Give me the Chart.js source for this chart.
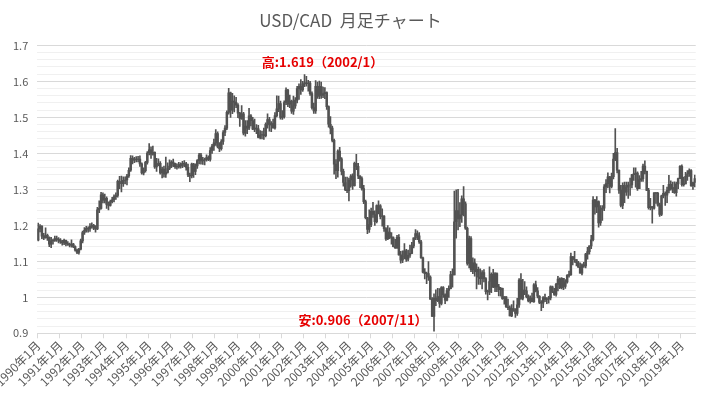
<!DOCTYPE html>
<html lang="ja">
<head>
    <meta charset="UTF-8">
    <title>USD/CAD 月足チャート</title>
    <script src="https://cdn.jsdelivr.net/npm/chart.js"></script>
    <style>
        html, body {
            margin: 0;
            padding: 0;
            background-color: #ffffff;
        }
        .chart-container {
            width: 705px;
            height: 396px;
        }
    </style>
</head>
<body>
    <div class="chart-container">
        <canvas id="usdcadChart"></canvas>
    </div>

    <script>
        // monthly bars, 1990/1 - 2019/8
        const firstYear = 1990;
        const monthCount = 356;

        const opens = [
            1.159,1.190,1.197,1.170,1.165,1.172,1.166,1.148,1.157,1.158,1.163,1.161, // 1990
            1.159,1.155,1.151,1.158,1.149,1.147,1.145,1.148,1.141,1.131,1.125,1.134,
            1.157,1.180,1.186,1.192,1.190,1.197,1.200,1.192,1.190,1.243,1.247,1.285,
            1.270,1.275,1.258,1.255,1.266,1.271,1.280,1.283,1.322,1.318,1.316,1.325,
            1.326,1.337,1.353,1.386,1.381,1.384,1.383,1.384,1.371,1.346,1.352,1.375,
            1.401,1.410,1.398,1.403,1.362,1.370,1.372,1.346,1.356,1.342,1.347,1.358, // 1995
            1.365,1.376,1.372,1.363,1.362,1.369,1.365,1.372,1.371,1.361,1.340,1.337,
            1.370,1.350,1.365,1.380,1.395,1.379,1.381,1.383,1.388,1.383,1.408,1.420,
            1.429,1.455,1.419,1.413,1.433,1.458,1.470,1.514,1.568,1.520,1.545,1.542,
            1.534,1.512,1.497,1.510,1.456,1.476,1.470,1.504,1.491,1.467,1.470,1.468,
            1.444,1.451,1.452,1.449,1.481,1.494,1.479,1.483,1.471,1.505,1.524,1.538, // 2000
            1.500,1.502,1.541,1.576,1.537,1.545,1.517,1.532,1.548,1.580,1.586,1.576,
            1.593,1.596,1.594,1.595,1.566,1.527,1.518,1.586,1.559,1.586,1.561,1.566,
            1.569,1.530,1.481,1.470,1.436,1.370,1.352,1.406,1.385,1.350,1.319,1.299,
            1.296,1.326,1.337,1.310,1.372,1.364,1.337,1.330,1.302,1.266,1.221,1.189,
            1.202,1.239,1.230,1.210,1.255,1.254,1.225,1.226,1.191,1.162,1.181,1.168, // 2005
            1.165,1.141,1.137,1.167,1.118,1.103,1.114,1.129,1.106,1.117,1.122,1.143,
            1.165,1.177,1.171,1.154,1.110,1.070,1.066,1.066,1.056,0.995,0.947,0.998,
            0.991,1.002,0.983,1.027,1.007,0.992,1.019,1.024,1.063,1.062,1.210,1.241,
            1.218,1.229,1.274,1.260,1.192,1.094,1.163,1.077,1.096,1.071,1.078,1.056,
            1.052,1.069,1.052,1.016,1.015,1.044,1.064,1.028,1.066,1.029,1.021,1.025, // 2010
            0.996,1.001,0.973,0.971,0.948,0.969,0.964,0.955,0.979,1.048,0.997,1.020,
            1.018,1.002,0.990,0.998,0.988,1.035,1.018,1.003,0.986,0.984,0.999,0.994,
            0.995,0.998,1.029,1.016,1.008,1.036,1.051,1.027,1.053,1.030,1.043,1.061,
            1.063,1.113,1.105,1.105,1.096,1.084,1.067,1.090,1.087,1.120,1.127,1.143,
            1.160,1.270,1.251,1.266,1.207,1.244,1.248,1.307,1.316,1.335,1.308,1.335, // 2015
            1.384,1.402,1.353,1.298,1.255,1.311,1.292,1.306,1.312,1.312,1.341,1.343,
            1.345,1.302,1.327,1.330,1.365,1.350,1.297,1.249,1.252,1.248,1.290,1.289,
            1.256,1.230,1.282,1.289,1.284,1.297,1.314,1.301,1.305,1.291,1.315,1.330,
            1.364,1.313,1.315,1.336,1.343,1.352,1.310,1.319
        ];

        const highs = [
            1.206,1.202,1.199,1.178,1.193,1.176,1.168,1.167,1.162,1.170,1.170,1.166, // 1990
            1.163,1.158,1.162,1.159,1.155,1.151,1.160,1.150,1.143,1.134,1.136,1.162,
            1.184,1.194,1.197,1.196,1.205,1.207,1.203,1.199,1.250,1.268,1.292,1.290,
            1.287,1.279,1.265,1.270,1.278,1.285,1.290,1.326,1.336,1.337,1.335,1.335,
            1.342,1.360,1.394,1.393,1.389,1.391,1.392,1.393,1.374,1.360,1.378,1.405,
            1.427,1.418,1.420,1.404,1.386,1.385,1.377,1.362,1.365,1.390,1.374,1.382, // 1995
            1.380,1.384,1.373,1.371,1.375,1.374,1.378,1.380,1.375,1.370,1.345,1.373,
            1.372,1.371,1.383,1.400,1.400,1.389,1.387,1.396,1.393,1.416,1.425,1.440,
            1.466,1.460,1.430,1.438,1.463,1.477,1.518,1.581,1.570,1.567,1.560,1.556,
            1.538,1.514,1.533,1.514,1.491,1.491,1.525,1.508,1.500,1.495,1.480,1.478,
            1.463,1.462,1.470,1.485,1.510,1.500,1.488,1.495,1.513,1.560,1.559,1.545, // 2000
            1.519,1.546,1.582,1.578,1.562,1.548,1.559,1.555,1.586,1.593,1.605,1.600,
            1.619,1.614,1.603,1.600,1.571,1.540,1.602,1.598,1.601,1.598,1.584,1.583,
            1.571,1.532,1.502,1.476,1.440,1.383,1.410,1.417,1.388,1.356,1.334,1.334,
            1.331,1.341,1.343,1.376,1.397,1.372,1.338,1.335,1.311,1.270,1.222,1.243,
            1.248,1.264,1.240,1.257,1.268,1.258,1.246,1.227,1.194,1.199,1.193,1.180, // 2005
            1.168,1.161,1.172,1.174,1.128,1.129,1.149,1.133,1.131,1.145,1.153,1.165,
            1.188,1.185,1.180,1.158,1.112,1.080,1.070,1.099,1.060,0.999,1.010,1.021,
            1.025,1.024,1.030,1.030,1.010,1.025,1.032,1.072,1.079,1.295,1.299,1.300,
            1.263,1.282,1.308,1.265,1.195,1.170,1.169,1.110,1.107,1.093,1.084,1.079,
            1.074,1.077,1.055,1.020,1.085,1.068,1.078,1.069,1.068,1.036,1.028,1.026, // 2010
            1.002,1.002,0.995,0.976,0.980,0.990,0.969,0.997,1.052,1.066,1.050,1.044,
            1.029,1.007,1.004,1.012,1.038,1.045,1.027,1.005,0.991,1.002,1.009,0.999,
            1.003,1.032,1.031,1.025,1.039,1.058,1.054,1.055,1.053,1.049,1.063,1.073,
            1.123,1.113,1.128,1.105,1.100,1.096,1.093,1.097,1.122,1.139,1.143,1.172,
            1.280,1.272,1.280,1.268,1.255,1.255,1.313,1.327,1.346,1.336,1.345,1.400, // 2015
            1.469,1.414,1.354,1.311,1.318,1.320,1.320,1.320,1.331,1.342,1.360,1.360,
            1.349,1.338,1.350,1.370,1.379,1.351,1.303,1.275,1.252,1.291,1.292,1.292,
            1.262,1.284,1.311,1.293,1.306,1.339,1.324,1.320,1.321,1.320,1.331,1.366,
            1.368,1.334,1.347,1.352,1.357,1.355,1.320,1.340
        ];

        const lows = [
            1.157,1.182,1.163,1.160,1.164,1.158,1.141,1.138,1.148,1.155,1.155,1.151, // 1990
            1.150,1.145,1.146,1.143,1.144,1.140,1.139,1.138,1.128,1.121,1.120,1.132,
            1.151,1.175,1.181,1.181,1.183,1.192,1.188,1.181,1.188,1.235,1.245,1.262,
            1.262,1.247,1.243,1.253,1.262,1.265,1.272,1.278,1.302,1.293,1.308,1.315,
            1.312,1.333,1.350,1.371,1.374,1.376,1.376,1.364,1.342,1.340,1.348,1.370,
            1.396,1.386,1.395,1.358,1.350,1.365,1.342,1.332,1.334,1.333,1.345,1.355, // 1995
            1.360,1.363,1.358,1.356,1.359,1.359,1.360,1.363,1.353,1.335,1.321,1.332,
            1.333,1.341,1.358,1.371,1.370,1.369,1.368,1.378,1.380,1.378,1.400,1.408,
            1.422,1.415,1.405,1.409,1.425,1.449,1.466,1.509,1.500,1.510,1.515,1.527,
            1.499,1.475,1.494,1.451,1.448,1.455,1.466,1.476,1.466,1.460,1.455,1.443,
            1.440,1.440,1.439,1.446,1.470,1.462,1.460,1.470,1.467,1.501,1.516,1.495, // 2000
            1.494,1.498,1.535,1.530,1.527,1.511,1.508,1.525,1.540,1.550,1.564,1.572,
            1.585,1.587,1.573,1.561,1.523,1.511,1.511,1.553,1.552,1.553,1.555,1.552,
            1.522,1.473,1.454,1.432,1.342,1.330,1.334,1.378,1.340,1.309,1.296,1.291,
            1.268,1.306,1.300,1.309,1.355,1.330,1.305,1.298,1.260,1.218,1.177,1.180,
            1.196,1.222,1.200,1.207,1.232,1.218,1.198,1.183,1.158,1.160,1.163,1.148, // 2005
            1.140,1.136,1.136,1.117,1.095,1.096,1.107,1.100,1.101,1.111,1.121,1.137,
            1.160,1.160,1.150,1.108,1.068,1.051,1.038,1.047,0.994,0.947,0.906,0.977,
            0.988,0.972,0.979,1.000,0.982,0.990,1.000,1.023,1.028,1.062,1.164,1.187,
            1.196,1.208,1.226,1.189,1.089,1.082,1.071,1.066,1.059,1.023,1.036,1.036,
            1.023,1.043,1.009,0.993,1.007,1.013,1.027,1.016,1.016,1.004,1.003,0.994, // 2010
            0.981,0.972,0.966,0.948,0.946,0.961,0.944,0.950,0.972,0.994,0.993,1.007,
            0.998,0.987,0.984,0.987,0.986,1.015,0.998,0.982,0.963,0.971,0.988,0.982,
            0.984,0.993,1.013,1.005,1.003,1.018,1.024,1.023,1.021,1.025,1.039,1.056,
            1.061,1.090,1.097,1.087,1.083,1.067,1.062,1.083,1.082,1.106,1.120,1.135,
            1.157,1.231,1.235,1.195,1.200,1.214,1.241,1.291,1.304,1.290,1.304,1.329, // 2015
            1.380,1.346,1.289,1.251,1.246,1.263,1.283,1.275,1.283,1.304,1.325,1.306,
            1.297,1.302,1.322,1.322,1.343,1.296,1.245,1.243,1.206,1.245,1.261,1.253,
            1.225,1.227,1.276,1.255,1.263,1.290,1.298,1.291,1.289,1.281,1.302,1.330,
            1.309,1.309,1.315,1.325,1.336,1.308,1.300,1.307
        ];

        const closes = [
            1.190,1.197,1.170,1.165,1.172,1.166,1.148,1.157,1.158,1.163,1.161,1.159, // 1990
            1.155,1.151,1.158,1.149,1.147,1.145,1.148,1.141,1.131,1.125,1.134,1.157,
            1.180,1.186,1.192,1.190,1.197,1.200,1.192,1.190,1.243,1.247,1.285,1.270,
            1.275,1.258,1.255,1.266,1.271,1.280,1.283,1.322,1.318,1.316,1.325,1.326,
            1.337,1.353,1.386,1.381,1.384,1.383,1.384,1.371,1.346,1.352,1.375,1.401,
            1.410,1.398,1.403,1.362,1.370,1.372,1.346,1.356,1.342,1.347,1.358,1.365, // 1995
            1.376,1.372,1.363,1.362,1.369,1.365,1.372,1.371,1.361,1.340,1.337,1.370,
            1.350,1.365,1.380,1.395,1.379,1.381,1.383,1.388,1.383,1.408,1.420,1.429,
            1.455,1.419,1.413,1.433,1.458,1.470,1.514,1.568,1.520,1.545,1.542,1.534,
            1.512,1.497,1.510,1.456,1.476,1.470,1.504,1.491,1.467,1.470,1.468,1.444,
            1.451,1.452,1.449,1.481,1.494,1.479,1.483,1.471,1.505,1.524,1.538,1.500, // 2000
            1.502,1.541,1.576,1.537,1.545,1.517,1.532,1.548,1.580,1.586,1.576,1.593,
            1.596,1.594,1.595,1.566,1.527,1.518,1.586,1.559,1.586,1.561,1.566,1.569,
            1.530,1.481,1.470,1.436,1.370,1.352,1.406,1.385,1.350,1.319,1.299,1.296,
            1.326,1.337,1.310,1.372,1.364,1.337,1.330,1.302,1.266,1.221,1.189,1.202,
            1.239,1.230,1.210,1.255,1.254,1.225,1.226,1.191,1.162,1.181,1.168,1.165, // 2005
            1.141,1.137,1.167,1.118,1.103,1.114,1.129,1.106,1.117,1.122,1.143,1.165,
            1.177,1.171,1.154,1.110,1.070,1.066,1.066,1.056,0.995,0.947,0.998,0.991,
            1.002,0.983,1.027,1.007,0.992,1.019,1.024,1.063,1.062,1.210,1.241,1.218,
            1.229,1.274,1.260,1.192,1.094,1.163,1.077,1.096,1.071,1.078,1.056,1.052,
            1.069,1.052,1.016,1.015,1.044,1.064,1.028,1.066,1.029,1.021,1.025,0.996, // 2010
            1.001,0.973,0.971,0.948,0.969,0.964,0.955,0.979,1.048,0.997,1.020,1.018,
            1.002,0.990,0.998,0.988,1.035,1.018,1.003,0.986,0.984,0.999,0.994,0.995,
            0.998,1.029,1.016,1.008,1.036,1.051,1.027,1.053,1.030,1.043,1.061,1.063,
            1.113,1.105,1.105,1.096,1.084,1.067,1.090,1.087,1.120,1.127,1.143,1.160,
            1.270,1.251,1.266,1.207,1.244,1.248,1.307,1.316,1.335,1.308,1.335,1.384, // 2015
            1.402,1.353,1.298,1.255,1.311,1.292,1.306,1.312,1.312,1.341,1.343,1.345,
            1.302,1.327,1.330,1.365,1.350,1.297,1.249,1.252,1.248,1.290,1.289,1.256,
            1.230,1.282,1.289,1.284,1.297,1.314,1.301,1.305,1.291,1.315,1.330,1.364,
            1.313,1.315,1.336,1.343,1.352,1.310,1.319,1.330
        ];

        // category labels like 1990年1月
        const labels = [];
        for (let i = 0; i < monthCount; i++) {
            labels.push((firstYear + Math.floor(i / 12)) + '年' + (i % 12 + 1) + '月');
        }

        const candleColor = '#525252';
        const textColor = '#595959';
        const fontFamily = '"Noto Sans CJK JP", "Noto Sans", sans-serif';

        Chart.defaults.font.family = fontFamily;
        Chart.defaults.color = textColor;

        const isMajor = v => Math.abs(v * 10 - Math.round(v * 10)) < 1e-6;
        const shortMonth = i => (firstYear + Math.floor(i / 12)) + '/' + (i % 12 + 1);

        // red high / low notes
        const extremeLabels = {
            id: 'extremeLabels',
            afterDatasetsDraw(chart) {
                const ctx = chart.ctx;
                const x = chart.scales.x;
                const y = chart.scales.y;
                const hi = highs.indexOf(Math.max(...highs));
                const lo = lows.indexOf(Math.min(...lows));
                ctx.save();
                ctx.fillStyle = '#e60000';
                ctx.font = 'bold 13px ' + fontFamily;
                ctx.textAlign = 'center';
                ctx.textBaseline = 'middle';
                ctx.fillText('高:' + highs[hi].toFixed(3) + '（' + shortMonth(hi) + '）',
                    x.getPixelForValue(hi) + 18, y.getPixelForValue(highs[hi]) - 12);
                ctx.fillText('安:' + lows[lo].toFixed(3) + '（' + shortMonth(lo) + '）',
                    x.getPixelForValue(lo) - 71, y.getPixelForValue(lows[lo]) - 11);
                ctx.restore();
            }
        };

        const ctx = document.getElementById('usdcadChart').getContext('2d');

        const usdcadChart = new Chart(ctx, {
            type: 'bar',
            data: {
                labels: labels,
                datasets: [{
                    label: '高値-安値',
                    data: lows.map((l, i) => [l, highs[i]]),
                    backgroundColor: candleColor,
                    barThickness: 1,
                    grouped: false
                }, {
                    label: '始値-終値',
                    data: opens.map((o, i) => [Math.min(o, closes[i]), Math.max(o, closes[i])]),
                    backgroundColor: candleColor,
                    barPercentage: 1,
                    categoryPercentage: 1,
                    grouped: false
                }]
            },
            options: {
                responsive: true,
                maintainAspectRatio: false,
                animation: false,
                devicePixelRatio: 1,
                layout: {
                    padding: { left: 4, right: 8, top: 0, bottom: 7 }
                },
                plugins: {
                    legend: { display: false },
                    tooltip: { enabled: false },
                    title: {
                        display: true,
                        text: 'USD/CAD  月足チャート',
                        color: textColor,
                        font: { size: 17, weight: 'normal' },
                        padding: { top: 10, bottom: 15 }
                    }
                },
                scales: {
                    x: {
                        offset: true,
                        grid: {
                            offset: true,
                            drawOnChartArea: false,
                            tickLength: 5,
                            color: c => (c.index % 12 === 0 ? '#d9d9d9' : 'transparent')
                        },
                        border: { color: '#d9d9d9' },
                        ticks: {
                            autoSkip: false,
                            minRotation: 45,
                            maxRotation: 45,
                            padding: 0,
                            color: textColor,
                            font: { size: 12 },
                            callback: (v, i) => (i % 12 === 0 ? labels[i] : '')
                        },
                        afterFit: s => { s.paddingLeft = 0; }
                    },
                    y: {
                        min: 0.9,
                        max: 1.7,
                        grid: {
                            drawTicks: false,
                            color: c => (isMajor(c.tick.value) ? '#d9d9d9' : '#f0f0f0')
                        },
                        border: { display: false },
                        ticks: {
                            stepSize: 0.02,
                            autoSkip: false,
                            padding: 9,
                            color: textColor,
                            font: { size: 11 },
                            callback: v => (isMajor(v) ? String(Math.round(v * 10) / 10) : '')
                        }
                    }
                }
            },
            plugins: [extremeLabels]
        });
    </script>
</body>
</html>
